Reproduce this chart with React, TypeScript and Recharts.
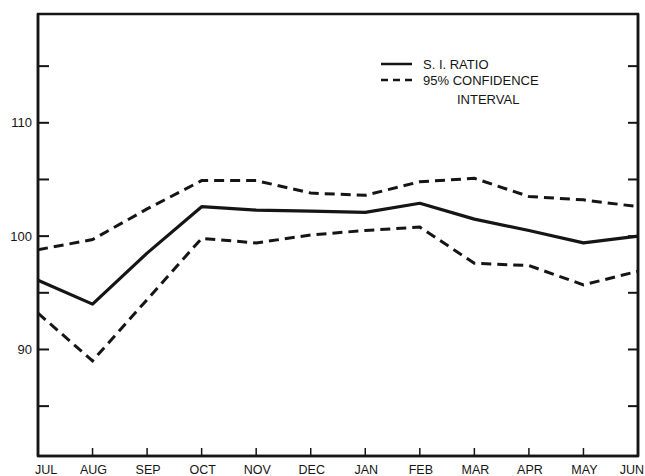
import { Legend, Line, LineChart, ReferenceArea, XAxis, YAxis } from 'recharts'

const INK = '#151515'
const FONT = '"Liberation Sans", Arial, Helvetica, sans-serif'

const months = ['JUL', 'AUG', 'SEP', 'OCT', 'NOV', 'DEC', 'JAN', 'FEB', 'MAR', 'APR', 'MAY', 'JUN']
const siRatio = [96.1, 94.0, 98.5, 102.6, 102.3, 102.2, 102.1, 102.9, 101.5, 100.5, 99.4, 100.0]
const upperCI = [98.8, 99.7, 102.4, 104.9, 104.9, 103.8, 103.6, 104.8, 105.1, 103.5, 103.2, 102.6]
const lowerCI = [93.2, 89.0, 94.4, 99.8, 99.4, 100.1, 100.5, 100.8, 97.6, 97.4, 95.7, 96.9]
const yTicks = [85, 90, 95, 100, 105, 110, 115]
const yLabels = [90, 100, 110]
const yDomain: [number, number] = [80.6, 119.6]

const data = months.map((month, i) => ({
  month,
  si: siRatio[i],
  upper: upperCI[i],
  lower: lowerCI[i],
}))

const LeftTick = (props: any) => {
  const { x, y, payload } = props
  return (
    <g>
      <line x1={x} y1={y} x2={x + 11} y2={y} stroke={INK} strokeWidth={2} />
      {yLabels.includes(payload.value) && (
        <text x={x - 6} y={y + 4.5} textAnchor="end" fontSize={13} fill={INK} fontFamily={FONT}>
          {payload.value}
        </text>
      )}
    </g>
  )
}

const RightTick = (props: any) => {
  const { x, y } = props
  return <line x1={x - 10} y1={y} x2={x} y2={y} stroke={INK} strokeWidth={2} />
}

const MonthTick = (props: any) => {
  const { x, y, payload, index } = props
  const first = index === 0
  const last = index === months.length - 1
  let tx = x + 1
  let anchor = 'middle'
  if (first) {
    tx = x - 3
    anchor = 'start'
  } else if (last) {
    tx = 644
    anchor = 'end'
  }
  return (
    <g>
      {!first && !last && <line x1={x} y1={y} x2={x} y2={y - 8} stroke={INK} strokeWidth={1.5} />}
      <text x={tx} y={y + 18} textAnchor={anchor} fontSize={12.5} fill={INK} fontFamily={FONT}>
        {payload.value}
      </text>
    </g>
  )
}

const LegendBox = () => (
  <svg width={240} height={60} style={{ display: 'block' }}>
    <line x1={3} y1={10} x2={34} y2={10} stroke={INK} strokeWidth={2.5} />
    <text x={45} y={14.5} fontSize={13} fill={INK} fontFamily={FONT}>
      S. I. RATIO
    </text>
    <line x1={3} y1={26} x2={34} y2={26} stroke={INK} strokeWidth={2.5} strokeDasharray="7 5" />
    <text x={45} y={30.5} fontSize={13} fill={INK} fontFamily={FONT}>
      95% CONFIDENCE
    </text>
    <text x={79} y={50} fontSize={13} fill={INK} fontFamily={FONT}>
      INTERVAL
    </text>
  </svg>
)

export default function App() {
  return (
    <div style={{ position: 'absolute', left: 0, top: 0, background: '#fff' }}>
      <LineChart
        width={645}
        height={476}
        data={data}
        margin={{ top: 14, right: 0, bottom: 0, left: 0 }}
        style={{ fontFamily: FONT }}
      >
        <XAxis
          dataKey="month"
          scale="point"
          interval={0}
          height={20}
          tickSize={0}
          tickMargin={0}
          tick={<MonthTick />}
          tickLine={false}
          axisLine={{ stroke: INK, strokeWidth: 2.5 }}
        />
        <YAxis
          domain={yDomain}
          ticks={yTicks}
          interval={0}
          width={38}
          tickSize={0}
          tickMargin={0}
          tick={<LeftTick />}
          tickLine={false}
          allowDataOverflow
          axisLine={{ stroke: INK, strokeWidth: 2.5 }}
        />
        <YAxis
          yAxisId="r"
          orientation="right"
          domain={yDomain}
          ticks={yTicks}
          interval={0}
          width={7}
          tickSize={0}
          tickMargin={0}
          tick={<RightTick />}
          tickLine={false}
          allowDataOverflow
          axisLine={{ stroke: INK, strokeWidth: 2.5 }}
        />
        <ReferenceArea
          x1="JUL"
          x2="JUN"
          y1={yDomain[0]}
          y2={yDomain[1]}
          fill="none"
          stroke={INK}
          strokeWidth={2.5}
          ifOverflow="visible"
        />
        <Legend
          layout="horizontal"
          verticalAlign="middle"
          align="center"
          content={<LegendBox />}
          wrapperStyle={{ left: 378, top: 54, width: 240, height: 60 }}
        />
        <Line
          dataKey="upper"
          type="linear"
          stroke={INK}
          strokeWidth={3}
          strokeDasharray="10 6"
          dot={false}
          isAnimationActive={false}
        />
        <Line
          dataKey="lower"
          type="linear"
          stroke={INK}
          strokeWidth={3}
          strokeDasharray="10 6"
          dot={false}
          isAnimationActive={false}
        />
        <Line
          dataKey="si"
          type="linear"
          stroke={INK}
          strokeWidth={3.2}
          strokeLinejoin="round"
          dot={false}
          isAnimationActive={false}
        />
      </LineChart>
    </div>
  )
}
